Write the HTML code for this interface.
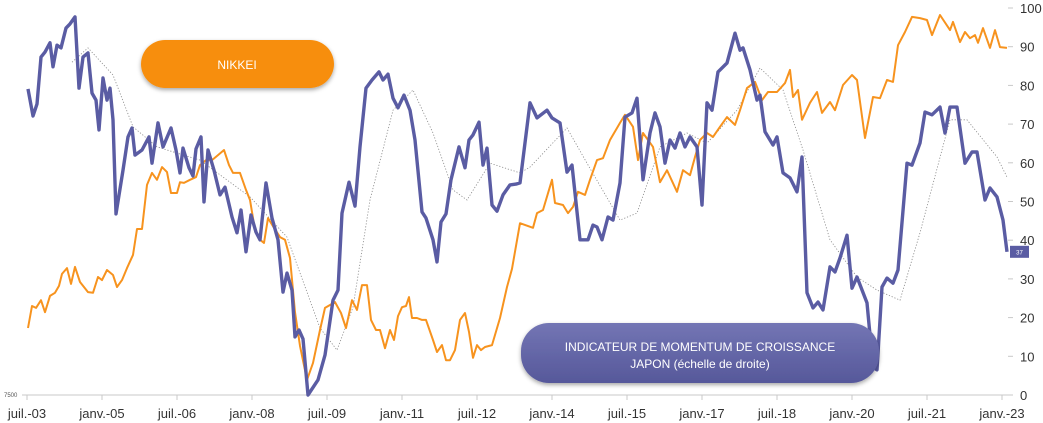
<!DOCTYPE html>
<html><head><meta charset="utf-8"><style>
html,body{margin:0;padding:0;background:#fff;width:1043px;height:423px;overflow:hidden;font-family:"Liberation Sans",sans-serif}
</style></head><body>
<svg id="chart" width="1043" height="423" viewBox="0 0 1043 423" xmlns="http://www.w3.org/2000/svg">
<defs>
<linearGradient id="bg" x1="0" y1="0" x2="0" y2="1"><stop offset="0" stop-color="#7375b4"/><stop offset="1" stop-color="#56589a"/></linearGradient>
<filter id="sh" x="-10%" y="-20%" width="120%" height="150%"><feDropShadow dx="0" dy="2" stdDeviation="2" flood-color="#000" flood-opacity="0.35"/></filter>
</defs>
<g id="axes"></g>
<g id="series"></g>
<g id="labels"></g>
</svg>
<script>
const blueYears=[2003.52,2003.62,2003.70,2003.78,2003.86,2003.96,2004.02,2004.10,2004.18,2004.28,2004.36,2004.46,2004.54,2004.62,2004.72,2004.80,2004.88,2004.94,2005.02,2005.10,2005.16,2005.22,2005.28,2005.42,2005.52,2005.60,2005.66,2005.80,2005.94,2006.00,2006.12,2006.22,2006.38,2006.48,2006.56,2006.62,2006.74,2006.82,2006.88,2006.98,2007.04,2007.12,2007.24,2007.36,2007.46,2007.60,2007.70,2007.78,2007.88,2007.98,2008.08,2008.16,2008.28,2008.40,2008.52,2008.62,2008.70,2008.80,2008.86,2008.94,2009.02,2009.12,2009.32,2009.46,2009.62,2009.72,2009.80,2009.94,2010.06,2010.16,2010.28,2010.40,2010.54,2010.62,2010.72,2010.82,2010.92,2011.04,2011.16,2011.26,2011.40,2011.48,2011.62,2011.70,2011.78,2011.88,2011.98,2012.14,2012.26,2012.34,2012.42,2012.54,2012.62,2012.70,2012.80,2012.90,2013.02,2013.16,2013.28,2013.36,2013.56,2013.70,2013.90,2014.00,2014.16,2014.30,2014.40,2014.56,2014.72,2014.82,2014.90,2015.00,2015.12,2015.22,2015.36,2015.46,2015.60,2015.70,2015.82,2015.96,2016.06,2016.16,2016.26,2016.36,2016.46,2016.56,2016.66,2016.76,2016.90,2017.00,2017.10,2017.20,2017.32,2017.50,2017.66,2017.76,2017.82,2017.96,2018.10,2018.16,2018.26,2018.42,2018.50,2018.62,2018.76,2018.90,2019.00,2019.10,2019.22,2019.32,2019.42,2019.56,2019.66,2019.76,2019.90,2020.00,2020.10,2020.30,2020.42,2020.50,2020.60,2020.70,2020.82,2020.92,2021.10,2021.20,2021.36,2021.46,2021.60,2021.76,2021.86,2021.96,2022.10,2022.26,2022.40,2022.50,2022.66,2022.76,2022.90,2023.02,2023.10];
const blueValues=[79.1,72.1,75.2,87.3,88.6,91.0,84.8,90.4,89.7,94.8,95.9,97.7,79.3,87.3,88.4,78.0,76.2,68.5,81.9,76.2,79.3,71.1,46.8,58.1,66.7,69.0,62.0,63.3,66.7,59.9,70.3,64.1,69.0,63.3,57.4,63.8,58.7,56.6,63.6,66.7,49.9,63.3,58.1,51.7,53.7,46.0,41.9,47.8,37.0,46.5,42.1,40.1,54.8,45.7,40.1,26.6,31.5,27.1,15.0,16.8,14.5,0,3.9,10.3,24.5,27.1,47.0,55.0,48.8,64.1,79.3,81.4,83.5,81.4,82.9,76.7,74.2,77.5,73.6,65.9,47.3,45.7,40.1,34.4,44.7,46.8,55.6,64.1,58.7,65.9,67.2,70.5,59.4,63.8,49.1,47.5,51.7,54.3,54.5,54.8,75.5,71.6,73.6,71.6,70.3,57.6,59.4,40.1,40.1,43.9,43.4,40.1,46.0,45.2,54.8,71.8,72.9,76.7,55.6,67.7,72.9,69.3,59.9,65.9,63.8,67.7,64.1,66.7,64.1,49.1,75.5,73.6,83.5,85.8,93.5,89.1,89.7,84.0,76.2,77.5,68.0,64.6,66.7,57.4,56.1,52.5,61.5,26.4,22.5,24.0,22.0,33.1,31.8,35.4,41.3,27.6,30.5,23.8,7.2,6.5,27.9,30.2,28.9,32.3,59.9,59.4,65.1,73.1,72.4,74.4,67.7,74.4,74.4,59.9,62.8,62.8,50.4,53.5,51.2,45.2,37.0];
const nikkeiYears=[2003.52,2003.60,2003.68,2003.78,2003.86,2003.96,2004.06,2004.14,2004.20,2004.30,2004.38,2004.46,2004.56,2004.72,2004.82,2004.92,2005.00,2005.10,2005.22,2005.30,2005.40,2005.50,2005.62,2005.70,2005.80,2005.90,2006.00,2006.10,2006.20,2006.30,2006.38,2006.50,2006.56,2006.64,2006.76,2006.88,2006.96,2007.08,2007.20,2007.32,2007.44,2007.54,2007.62,2007.76,2007.88,2007.96,2008.06,2008.16,2008.24,2008.32,2008.44,2008.56,2008.66,2008.76,2008.86,2008.96,2009.10,2009.22,2009.36,2009.46,2009.66,2009.78,2009.88,2010.00,2010.10,2010.20,2010.30,2010.38,2010.48,2010.56,2010.66,2010.76,2010.84,2010.92,2011.00,2011.08,2011.14,2011.20,2011.30,2011.40,2011.48,2011.62,2011.70,2011.80,2011.88,2011.96,2012.06,2012.16,2012.26,2012.34,2012.42,2012.50,2012.58,2012.66,2012.80,2012.96,2013.10,2013.20,2013.36,2013.62,2013.70,2013.82,2014.00,2014.06,2014.22,2014.32,2014.42,2014.52,2014.66,2014.76,2014.90,2015.02,2015.16,2015.36,2015.46,2015.62,2015.72,2015.82,2016.02,2016.16,2016.30,2016.50,2016.62,2016.76,2016.86,2016.96,2017.10,2017.22,2017.36,2017.50,2017.66,2017.76,2017.90,2018.06,2018.20,2018.32,2018.50,2018.66,2018.76,2018.82,2018.92,2019.00,2019.16,2019.30,2019.40,2019.56,2019.66,2019.82,2020.00,2020.10,2020.26,2020.42,2020.56,2020.70,2020.82,2020.92,2021.06,2021.20,2021.36,2021.50,2021.60,2021.76,2021.96,2022.02,2022.16,2022.26,2022.36,2022.46,2022.52,2022.62,2022.76,2022.86,2022.96,2023.10];
const nikkeiValues=[17.3,23.0,22.5,24.5,21.4,25.6,26.4,28.2,31.3,32.8,28.7,33.1,29.2,26.6,26.4,30.5,29.7,32.3,31.0,27.9,29.7,32.8,36.2,42.9,42.9,54.3,57.4,55.6,58.9,57.6,52.2,52.2,55.0,54.8,55.6,56.3,59.4,60.7,60.7,62.0,63.3,59.4,57.4,57.4,53.0,50.4,42.6,40.1,39.3,45.7,43.2,40.8,40.1,35.4,21.4,12.7,3.9,8.3,16.8,22.5,24.0,21.2,17.3,24.5,22.0,28.4,28.4,19.4,16.8,16.8,12.1,16.8,14.2,20.4,22.7,23.0,25.3,19.9,19.9,19.4,19.4,14.2,11.1,12.9,9.0,9.0,11.6,19.4,21.2,16.3,9.6,12.9,11.6,12.4,12.9,19.9,27.9,32.6,44.4,43.2,47.0,47.8,55.6,49.6,49.1,47.0,48.6,52.5,51.7,55.6,60.7,61.2,65.9,70.3,72.4,69.3,60.7,67.7,64.1,55.0,58.1,52.5,58.1,56.8,61.5,65.9,67.7,66.7,69.3,71.8,69.8,73.6,79.3,80.9,76.2,78.3,78.3,80.6,84.0,77.0,78.8,71.1,75.5,78.3,72.9,75.7,73.6,80.1,82.7,81.4,66.4,77.0,76.7,81.4,80.9,90.4,93.8,97.7,97.4,96.9,93.0,98.2,94.3,96.4,91.2,93.8,92.2,93.0,91.0,94.8,89.7,94.3,89.9,89.7];
const maYears=[2004.40,2004.72,2005.22,2005.62,2006.10,2006.96,2007.96,2008.70,2009.36,2009.70,2010.02,2010.36,2010.82,2011.22,2011.62,2012.02,2012.30,2012.76,2013.36,2013.56,2014.30,2014.70,2015.36,2015.70,2016.16,2016.70,2017.10,2017.70,2018.16,2018.62,2019.02,2019.56,2020.10,2020.50,2020.96,2021.36,2021.96,2022.30,2022.90,2023.10];
const maValues=[86.0,89.7,82.7,69.3,64.1,60.7,51.2,40.8,17.3,11.6,22.7,50.4,73.6,78.8,67.7,53.0,50.4,59.9,57.4,58.9,69.0,59.9,45.2,47.0,64.1,67.7,65.1,73.6,84.5,78.8,63.3,40.1,30.5,27.1,24.5,41.9,71.1,71.1,61.5,56.3];
const xTickLabels=["juil.-03","janv.-05","juil.-06","janv.-08","juil.-09","janv.-11","juil.-12","janv.-14","juil.-15","janv.-17","juil.-18","janv.-20","juil.-21","janv.-23"];
const xTickYears=[2003.5,2005,2006.5,2008,2009.5,2011,2012.5,2014,2015.5,2017,2018.5,2020,2021.5,2023];
const yTickValues=[0,10,20,30,40,50,60,70,80,90,100];
const lastValue=37;

const NS="http://www.w3.org/2000/svg";
const X=yr=>27+(yr-2003.5)*50;
const Y=v=>395-v*3.87;
function mk(tag,attrs,parent){const e=document.createElementNS(NS,tag);for(const k in attrs)e.setAttribute(k,attrs[k]);parent.appendChild(e);return e;}
const axes=document.getElementById('axes'),series=document.getElementById('series'),labels=document.getElementById('labels');

const base=mk('line',{x1:22,x2:1008,y1:395,y2:395,stroke:'#c8c8c8','stroke-width':1},axes);


xTickLabels.forEach((t,i)=>{
  const tk=mk('line',{x1:X(xTickYears[i]),x2:X(xTickYears[i]),y1:395,y2:400,stroke:'#c8c8c8'},axes);
  
  
  const tx=mk('text',{x:X(xTickYears[i]),y:418,'text-anchor':'middle','font-size':13,fill:'#333'},axes);
  tx.textContent=t;
  
  
});
yTickValues.forEach(v=>{
  const tk=mk('line',{x1:1008,x2:1013,y1:Y(v),y2:Y(v),stroke:'#c8c8c8'},axes);
  
  
  const tx=mk('text',{x:1020,y:Y(v)+5,'font-size':13,fill:'#333'},axes);
  tx.textContent=v;
  
  
});
const lt=mk('text',{x:4,y:397,'font-size':6,fill:'#555'},axes);
lt.textContent='7500';



function path(xs,vs){return xs.map((x,i)=>(i?'L':'M')+X(x).toFixed(1)+','+Y(vs[i]).toFixed(1)).join('');}
const ma=mk('path',{d:path(maYears,maValues),fill:'none',stroke:'#888','stroke-width':0.8,'stroke-dasharray':'1.2 1.8'},series);


const nk=mk('path',{d:path(nikkeiYears,nikkeiValues),fill:'none',stroke:'#F7931E','stroke-width':2,'stroke-linejoin':'round'},series);


const bl=mk('path',{d:path(blueYears,blueValues),fill:'none',stroke:'#5A5CA3','stroke-width':3.4,'stroke-linejoin':'round'},series);



const nb=mk('rect',{x:141,y:40,width:193,height:48,rx:24,fill:'#F78E0E',filter:'url(#sh)'},labels);


const nt=mk('text',{x:237,y:69,'text-anchor':'middle','font-size':12,fill:'#fff'},labels);
nt.textContent='NIKKEI';


const mb=mk('rect',{x:521,y:323,width:358,height:60,rx:28,fill:'url(#bg)',filter:'url(#sh)'},labels);


const mt1=mk('text',{x:700,y:351,'text-anchor':'middle','font-size':12,fill:'#fff'},labels);
mt1.textContent='INDICATEUR DE  MOMENTUM DE CROISSANCE';


const mt2=mk('text',{x:700,y:368,'text-anchor':'middle','font-size':12,fill:'#fff'},labels);
mt2.textContent='JAPON (échelle de droite)';


const vb=mk('rect',{x:1010,y:Y(lastValue)-6,width:19,height:12,fill:'#5A5CA3'},labels);


const vt=mk('text',{x:1019.5,y:Y(lastValue)+2.5,'text-anchor':'middle','font-size':6,fill:'#fff'},labels);
vt.textContent=lastValue;


</script>
</body></html>
